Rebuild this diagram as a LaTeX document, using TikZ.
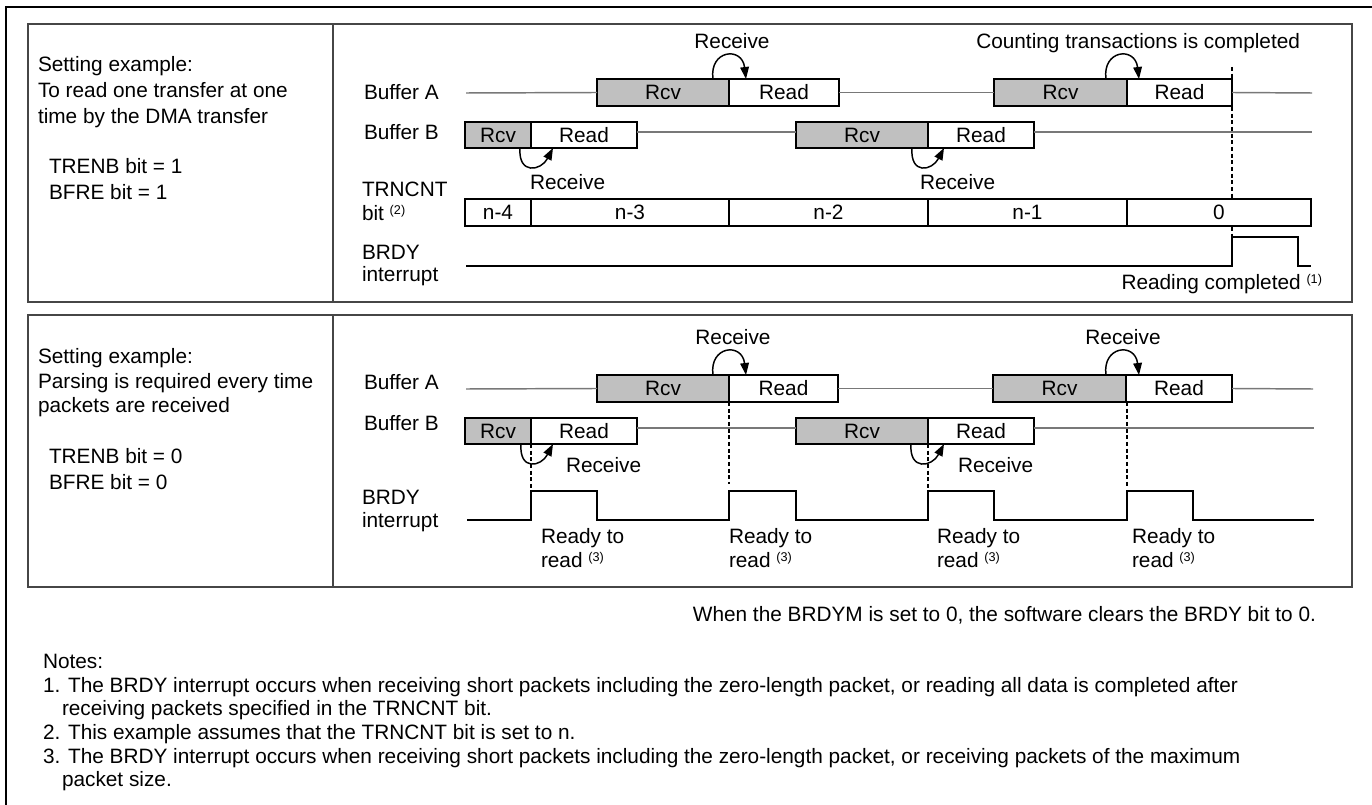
\documentclass[tikz,border=0pt]{standalone}
\usepackage{fontspec}
\setmainfont{Liberation Sans}
\usetikzlibrary{arrows.meta,calc}
\definecolor{rcvgray}{RGB}{192,192,192}
\definecolor{tlgray}{RGB}{120,120,120}
\definecolor{framegray}{RGB}{70,70,70}
\newcommand\nsup[1]{ \raisebox{4.5pt}{\fontsize{9.5}{9.5}\selectfont(#1)}}
% name, style, x1, x2, ytop, ybottom, text
\newcommand\tbox[7]{\node[#2, minimum width={(#4-#3)*0.75pt}, minimum height={(#6-#5)*0.75pt}] (#1) at ({(#3+#4)/2},{(#5+#6)/2}) {#7};}
\begin{document}
\begin{tikzpicture}[x=0.75pt,y=-0.75pt,
  font=\fontsize{15.6}{19}\selectfont,
  lbl/.style={anchor=base west, inner sep=0pt, outer sep=0pt},
  rcvb/.style={draw=black, fill=rcvgray, line width=1.1pt, inner sep=0pt, outer sep=0pt},
  readb/.style={draw=black, fill=white, line width=1.1pt, inner sep=0pt, outer sep=0pt},
  cntb/.style={draw=black, fill=white, line width=1.1pt, inner sep=0pt, outer sep=0pt},
  tl/.style={draw=tlgray, line width=1.1pt},
  sig/.style={draw=black, line width=1.4pt},
  recv/.style={draw=black, line width=1.1pt, -{Triangle[length=9pt,width=6.5pt]}},
  vdash/.style={draw=black, line width=0.8pt, dash pattern=on 3pt off 2pt},
  panel/.style={draw=framegray, line width=1pt}]
\useasboundingbox (0,0) rectangle (1372,805);
\fill[white] (0,0) rectangle (1372,805);
% outer frame
\draw[line width=2pt] (6,805) -- (6,7) -- (1372,7);
% panels
\draw[panel] (28,24) rectangle (1352,302);
\draw[panel] (333,24) -- (333,302);
\draw[panel] (28,315) rectangle (1352,587);
\draw[panel] (333,315) -- (333,587);

% ---------- top panel ----------
\node[lbl] (t1) at (38,72) {Setting example:};
\node[lbl] (t2) at (38,98) {To read one transfer at one};
\node[lbl] (t3) at (38,124) {time by the DMA transfer};
\node[lbl] (t4) at (49,174) {TRENB bit = 1};
\node[lbl] (t5) at (49,200) {BFRE bit = 1};

\node[lbl] (ta) at (364,100) {Buffer A};
\node[lbl] (tb) at (364,140) {Buffer B};
\node[lbl] (tc1) at (362,197) {TRNCNT};
\node[lbl] (tc2) at (362,221) {bit\nsup{2}};
\node[lbl] (td1) at (362,260) {BRDY};
\node[lbl] (td2) at (362,282) {interrupt};

% dashed marker
\coordinate (dT) at (1232,67);
\coordinate (dB) at (1232,237);
\draw[vdash] (dT) -- (dB);

% buffer A
\tbox{a1r}{rcvb}{597}{729}{79}{106}{Rcv}
\tbox{a1d}{readb}{729}{839}{79}{106}{Read}
\tbox{a2r}{rcvb}{994}{1127}{79}{106}{Rcv}
\tbox{a2d}{readb}{1127}{1232}{79}{106}{Read}
\coordinate (aS) at (466,93);
\coordinate (aE) at (1312,93);
\draw[tl] (aS) -- (a1r.west);
\draw[tl] (a1d.east) -- (a2r.west);
\draw[tl] (a2d.east) -- (aE);
% buffer B
\tbox{b1r}{rcvb}{465}{531}{122}{148}{Rcv}
\tbox{b1d}{readb}{531}{637}{122}{148}{Read}
\tbox{b2r}{rcvb}{796}{928}{122}{148}{Rcv}
\tbox{b2d}{readb}{928}{1034}{122}{148}{Read}
\coordinate (bY) at (0,132);
\coordinate (bE) at (1312,132);
\draw[tl] (b1d.east |- bY) -- (b2r.west |- bY);
\draw[tl] (b2d.east |- bY) -- (bE);
% TRNCNT
\tbox{c1}{cntb}{465}{531}{199}{226}{n-4}
\tbox{c2}{cntb}{531}{729}{199}{226}{n-3}
\tbox{c3}{cntb}{729}{928}{199}{226}{n-2}
\tbox{c4}{cntb}{928}{1127}{199}{226}{n-1}
\tbox{c5}{cntb}{1127}{1311}{199}{226}{0}
% BRDY
\coordinate (dS) at (466,266);
\coordinate (dE) at (1311,266);
\draw[sig] (dS) -- (1232,266) -- (dB) -- (1298,237) -- (1298,266) -- (dE);

% receive arrows
\draw[recv] ($(a1r.north east)+(-16,0)$) .. controls +(-4,-29) and +(-4,-33) .. ($(a1d.north west)+(17,0)$);
\draw[recv] ($(a2r.north east)+(-21,0)$) .. controls +(-4,-29) and +(-4,-33) .. ($(a2d.north west)+(12,0)$);
\draw[recv] ($(b1r.south east)+(-11,0)$) .. controls +(-2,27) and +(-12,23) .. ($(b1d.south west)+(22,0)$);
\draw[recv] ($(b2r.south east)+(-16,0)$) .. controls +(-2,27) and +(-12,23) .. ($(b2d.south west)+(16,0)$);

\node[lbl, anchor=base] (r1) at (732,49) {Receive};
\node[lbl, anchor=base east] (cnt) at (1300,49) {Counting transactions is completed};
\node[lbl] (r2) at (530,190) {Receive};
\node[lbl] (r3) at (920,190) {Receive};
\node[lbl, anchor=base east] (rc) at (1322,290) {Reading completed\nsup{1}};

% ---------- bottom panel ----------
\node[lbl] (u1) at (38,364) {Setting example:};
\node[lbl] (u2) at (38,389) {Parsing is required every time};
\node[lbl] (u3) at (38,413) {packets are received};
\node[lbl] (u4) at (49,464) {TRENB bit = 0};
\node[lbl] (u5) at (49,490) {BFRE bit = 0};

\node[lbl] (ua) at (364,390) {Buffer A};
\node[lbl] (ub) at (364,431) {Buffer B};
\node[lbl] (ud1) at (362,505) {BRDY};
\node[lbl] (ud2) at (362,528) {interrupt};

% dashed markers
\coordinate (e1T) at (531,444); \coordinate (e1B) at (531,491);
\coordinate (e2T) at (729,402); \coordinate (e2B) at (729,484);
\coordinate (e3T) at (928,444); \coordinate (e3B) at (928,491);
\coordinate (e4T) at (1127,402); \coordinate (e4B) at (1127,487);
\draw[vdash] (e1T) -- (e1B);
\draw[vdash] (e2T) -- (e2B);
\draw[vdash] (e3T) -- (e3B);
\draw[vdash] (e4T) -- (e4B);

\tbox{A1r}{rcvb}{597}{729}{375}{402}{Rcv}
\tbox{A1d}{readb}{729}{838}{375}{402}{Read}
\tbox{A2r}{rcvb}{993}{1126}{375}{402}{Rcv}
\tbox{A2d}{readb}{1126}{1232}{375}{402}{Read}
\coordinate (AS) at (466,389);
\coordinate (AE) at (1313,389);
\draw[tl] (AS) -- (A1r.west);
\draw[tl] (A1d.east) -- (A2r.west);
\draw[tl] (A2d.east) -- (AE);

\tbox{B1r}{rcvb}{465}{531}{418}{444}{Rcv}
\tbox{B1d}{readb}{531}{637}{418}{444}{Read}
\tbox{B2r}{rcvb}{796}{928}{418}{444}{Rcv}
\tbox{B2d}{readb}{928}{1034}{418}{444}{Read}
\coordinate (BY) at (0,428);
\coordinate (BE) at (1314,428);
\draw[tl] (B1d.east |- BY) -- (B2r.west |- BY);
\draw[tl] (B2d.east |- BY) -- (BE);

\coordinate (DS) at (467,520);
\coordinate (DE) at (1314,520);
\draw[sig] (DS) -- (531,520) -- (531,491) -- (597,491) -- (597,520)
  -- (729,520) -- (729,491) -- (796,491) -- (796,520)
  -- (928,520) -- (928,491) -- (994,491) -- (994,520)
  -- (1127,520) -- (1127,491) -- (1193,491) -- (1193,520) -- (DE);

\draw[recv] ($(A1r.north east)+(-16,0)$) .. controls +(-4,-29) and +(-4,-33) .. ($(A1d.north west)+(17,0)$);
\draw[recv] ($(A2r.north east)+(-20,0)$) .. controls +(-4,-29) and +(-4,-33) .. ($(A2d.north west)+(13,0)$);
\draw[recv] ($(B1r.south east)+(-10,0)$) .. controls +(-2,27) and +(-12,23) .. ($(B1d.south west)+(22,0)$);
\draw[recv] ($(B2r.south east)+(-17,0)$) .. controls +(-2,27) and +(-12,23) .. ($(B2d.south west)+(16,0)$);

\node[lbl, anchor=base] (s1) at (733,345) {Receive};
\node[lbl, anchor=base] (s2) at (1123,345) {Receive};
\node[lbl] (s3) at (566,473) {Receive};
\node[lbl] (s4) at (958,473) {Receive};

\node[lbl] (q1a) at (541,544) {Ready to};
\node[lbl] (q1b) at (541,568) {read\nsup{3}};
\node[lbl] (q2a) at (729,544) {Ready to};
\node[lbl] (q2b) at (729,568) {read\nsup{3}};
\node[lbl] (q3a) at (937,544) {Ready to};
\node[lbl] (q3b) at (937,568) {read\nsup{3}};
\node[lbl] (q4a) at (1132,544) {Ready to};
\node[lbl] (q4b) at (1132,568) {read\nsup{3}};

% ---------- notes ----------
\node[lbl, anchor=base east] (wn) at (1316,621) {When the BRDYM is set to 0, the software clears the BRDY bit to 0.};
\node[lbl] (n0) at (43,668) {Notes:};
\node[lbl] (n1) at (43,692) {1. The BRDY interrupt occurs when receiving short packets including the zero-length packet, or reading all data is completed after};
\node[lbl] (n1b) at (62,715) {receiving packets specified in the TRNCNT bit.};
\node[lbl] (n2) at (43,739) {2. This example assumes that the TRNCNT bit is set to n.};
\node[lbl] (n3) at (43,763) {3. The BRDY interrupt occurs when receiving short packets including the zero-length packet, or receiving packets of the maximum};
\node[lbl] (n3b) at (62,786) {packet size.};
\end{tikzpicture}
\end{document}
